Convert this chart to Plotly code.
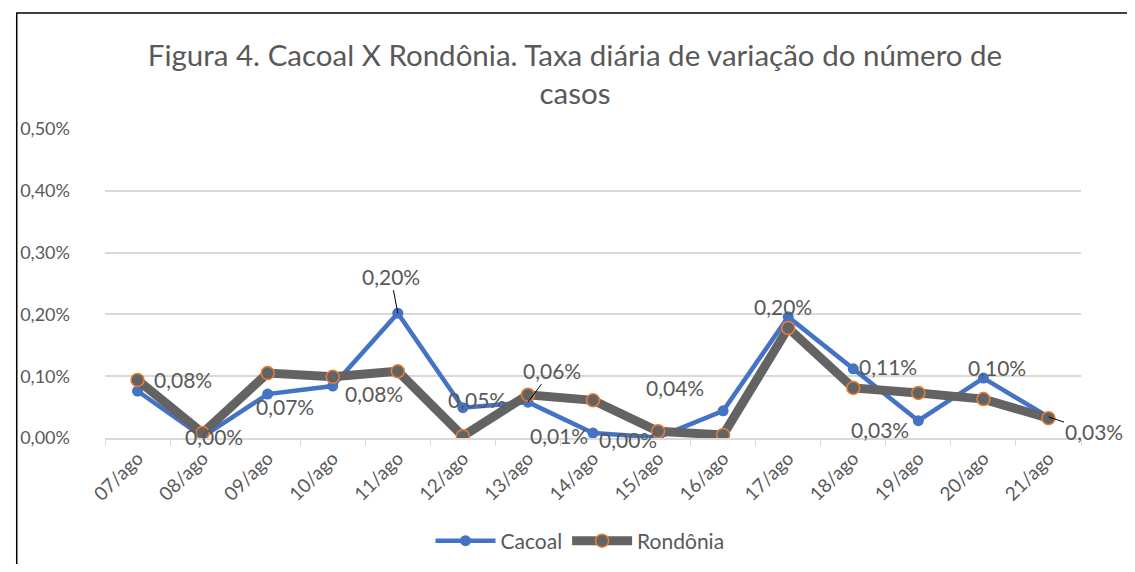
import plotly.graph_objects as go

categories = ["07/ago", "08/ago", "09/ago", "10/ago", "11/ago", "12/ago", "13/ago", "14/ago",
              "15/ago", "16/ago", "17/ago", "18/ago", "19/ago", "20/ago", "21/ago"]
cacoal = [0.076, 0.002, 0.071, 0.084, 0.202, 0.049, 0.058, 0.008, 0.001, 0.044, 0.196, 0.112, 0.028, 0.097, 0.034]
rondonia = [0.094, 0.008, 0.105, 0.099, 0.108, 0.003, 0.070, 0.061, 0.011, 0.005, 0.178, 0.081, 0.073, 0.063, 0.032]
y_ticks = [0.0, 0.1, 0.2, 0.3, 0.4, 0.5]

# label offsets (px): (dx, dy_up, with_leader)
label_offsets = [(45, 12, False), (11, 0, False), (17, -12, False), (41, -7, False), (-7, 37, True),
                 (14, 8, False), (24, 32, True), (-34, -2, False), (-30, -2, False), (-48, 23, False),
                 (-5, 10, False), (35, 2, False), (-38, -9, False), (14, 11, False), (46, -15, True)]

FONT = "Lato, 'Open Sans', sans-serif"
TXT = "#595959"
OFF = 8  # page body margin

def fmt(v):
    return f"{v:.2f}".replace(".", ",") + "%"

W, H = 1135 - 2 * OFF, 572 - 2 * OFF
PL, PR, PT, PB = 97 - OFF, 1081 - OFF, 129 - OFF, 438 - OFF
pw, ph = PR - PL, PB - PT

fig = go.Figure()
fig.add_trace(go.Scatter(
    x=categories, y=cacoal, name="Cacoal", mode="lines+markers",
    line=dict(color="#4472C4", width=4.5),
    marker=dict(color="#4472C4", size=11, line=dict(width=0)),
))
fig.add_trace(go.Scatter(
    x=categories, y=rondonia, name="Rondônia", mode="lines+markers",
    line=dict(color="#636363", width=9),
    marker=dict(color="#636363", size=13, line=dict(color="#ED7D31", width=1.5)),
))

annotations = []
for c, v, (dx, dy, lead) in zip(categories, cacoal, label_offsets):
    if lead:
        annotations.append(dict(x=c, y=v, xref="x", yref="y", text=fmt(v), showarrow=True,
                                arrowhead=0, arrowwidth=1, arrowcolor="#000000",
                                ax=dx, ay=-dy, font=dict(family=FONT, size=21, color=TXT)))
    else:
        annotations.append(dict(x=c, y=v, xref="x", yref="y", text=fmt(v), showarrow=False,
                                xshift=dx, yshift=dy, font=dict(family=FONT, size=21, color=TXT)))

fig.update_layout(
    width=W, height=H,
    margin=dict(l=PL, r=W - PR, t=PT, b=H - PB),
    paper_bgcolor="white", plot_bgcolor="white",
    separators=",.",
    title=dict(text="Figura 4. Cacoal X Rondônia. Taxa diária de variação do número de<br>casos",
               x=(575 - OFF) / W, xanchor="center", y=1 - (66 - OFF) / H, yanchor="middle",
               font=dict(family=FONT, size=29.5, color=TXT)),
    font=dict(family=FONT, color=TXT),
    showlegend=True,
    legend=dict(orientation="h", x=(580 - OFF) / W, xanchor="center", xref="container",
                y=1 - (541 - OFF) / H, yref="container", yanchor="middle",
                font=dict(family=FONT, size=21, color=TXT), itemwidth=60),
    annotations=annotations,
    shapes=[dict(type="rect", xref="paper", yref="paper",
                 x0=(8 - 97) / pw, x1=(1150 - 97) / pw,
                 y0=(438 - 600) / ph, y1=(438 - 13) / ph,
                 line=dict(color="#000000", width=1.5), fillcolor="rgba(0,0,0,0)", layer="below")],
)
fig.update_xaxes(
    type="category", tickangle=-45, tickfont=dict(family=FONT, size=19, color=TXT),
    showline=True, linecolor="#D9D9D9", linewidth=1.5,
    ticks="outside", tickson="boundaries", ticklen=6, tickcolor="#D9D9D9",
    showgrid=False, range=[-0.5, 14.5],
)
fig.update_yaxes(
    range=[0, 0.5], tickvals=y_ticks, ticktext=[fmt(v) for v in y_ticks],
    tickfont=dict(family=FONT, size=18, color=TXT),
    showgrid=True, gridcolor="#D9D9D9", gridwidth=1.5, zeroline=False,
    showline=False, ticks="", ticklabelstandoff=34,
)

fig.write_html("out.html")
